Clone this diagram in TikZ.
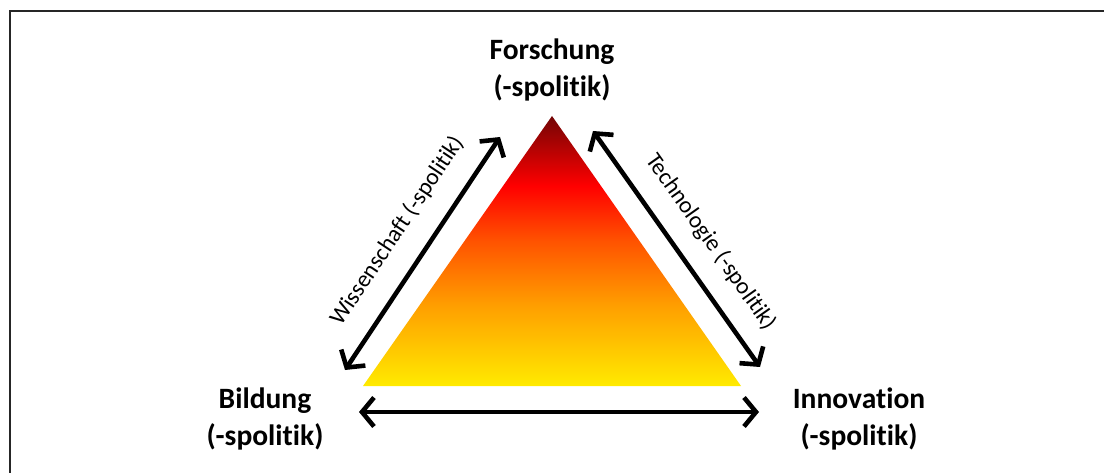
\documentclass[tikz,border=0pt]{standalone}
\usepackage{fontspec}
\setmainfont{Carlito}[Ligatures=NoCommon]
\usetikzlibrary{arrows.meta}
% vertical colour ramp for the triangle, yellow at the base to dark red at the apex
\pgfdeclareverticalshading{heat}{100bp}{%
  rgb(0bp)=(1,0.92,0);
  rgb(25bp)=(1,0.92,0);
  rgb(40bp)=(1,0.62,0);
  rgb(52bp)=(1,0.32,0);
  rgb(62bp)=(1,0,0);
  rgb(75bp)=(0.45,0.02,0.02);
  rgb(100bp)=(0.45,0.02,0.02)}
\begin{document}
\begin{tikzpicture}[x=1pt,y=-1pt,
  corner/.style={font=\bfseries\fontsize{29.5}{37.5}\selectfont, align=center, inner sep=0pt},
  side/.style={font=\fontsize{23.5}{26}\selectfont, inner sep=0pt},
  link/.style={line width=4.6pt, line cap=round, line join=round,
    {Straight Barb[length=12pt,width=29pt]}-{Straight Barb[length=12pt,width=29pt]}},
  frame/.style={line width=2pt, draw=black!85}]
\useasboundingbox (0,0) rectangle (1104,473);
% frame
\draw[frame] (10,473) -- (10,11) -- (1104,11);
% triangle
\shade[shading=heat] (552,116) -- (741,386) -- (363,386) -- cycle;
% corner labels
\node[corner] (forschung) at (552,70) {Forschung\\(-spolitik)};
\node[corner] (bildung) at (265,419) {Bildung\\(-spolitik)};
\node[corner] (innovation) at (859,419) {Innovation\\(-spolitik)};
% arrow end points
\coordinate (lt) at (500,137);
\coordinate (lb) at (345,370);
\coordinate (rt) at (593,131);
\coordinate (rb) at (760,367);
\coordinate (bl) at (359,412);
\coordinate (br) at (759,412);
\draw[link] (lb) -- (lt);
\draw[link] (rt) -- (rb);
\draw[link] (bl) -- (br);
% side labels
\node[side, rotate=56.3] (wiss) at (397,231) {Wissenschaft (-spolitik)};
\node[side, rotate=-54.7] (tech) at (711,242) {Technologie (-spolitik)};
\end{tikzpicture}
\end{document}
